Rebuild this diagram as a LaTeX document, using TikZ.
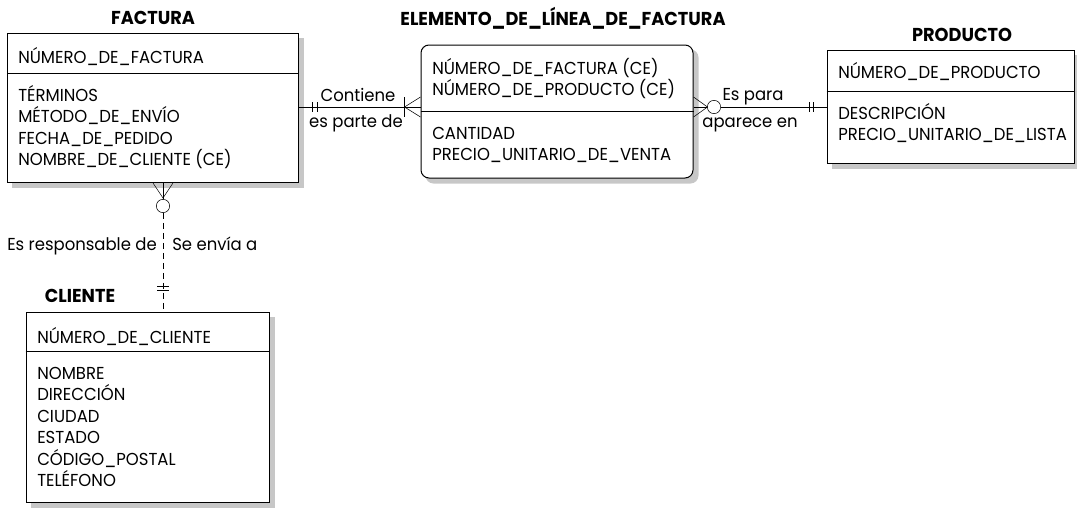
\documentclass[tikz,border=0pt]{standalone}
\usepackage{fontspec}
\setmainfont{Poppins}[FakeStretch=0.95]
\usetikzlibrary{calc,backgrounds}

\newcommand\attrsize{\fontsize{13pt}{16pt}\selectfont}
\newcommand\namesize{\fontsize{14pt}{16pt}\selectfont}

\tikzset{every picture/.style={line width=0.75pt}}
\tikzset{
  entity/.style={draw, fill=white, inner sep=0pt},
  entshadow/.style={fill=black!22},
  attr/.style={anchor=base west, inner sep=0pt, font=\attrsize},
  entname/.style={anchor=base, inner sep=0pt, font=\namesize\bfseries},
  role/.style={anchor=base, inner sep=0pt, font=\attrsize},
  optc/.style={draw, circle, fill=white, inner sep=0pt, minimum size=10pt}
}

\begin{document}
\begin{tikzpicture}[x=0.75pt,y=0.75pt,yscale=-1,xscale=1]
\useasboundingbox (0,0) rectangle (1077,507);

%Shape: Entity [id:factura]
\node[entity, minimum width=218.25pt, minimum height=111.75pt] (fac) at (153,108) {};
\draw ([yshift=30pt]fac.north west) -- ([yshift=30pt]fac.north east);
%Shape: Entity [id:elemento]
\node[entity, rounded corners=6pt, minimum width=204pt, minimum height=99.75pt] (elem) at (557,111.5) {};
\draw ([yshift=49.9pt]elem.north west) -- ([yshift=49.9pt]elem.north east);
%Shape: Entity [id:producto]
\node[entity, minimum width=185.25pt, minimum height=84.75pt] (prod) at (950.5,106.5) {};
\draw ([yshift=31.5pt]prod.north west) -- ([yshift=31.5pt]prod.north east);
%Shape: Entity [id:cliente]
\node[entity, minimum width=182.25pt, minimum height=142.5pt] (cli) at (147.5,407) {};
\draw ([yshift=30pt]cli.north west) -- ([yshift=30pt]cli.north east);

%Shadows
\begin{pgfonlayer}{background}
\fill[entshadow] ($(fac.north west)+(5,5)$) rectangle ($(fac.south east)+(5,5)$);
\fill[entshadow, rounded corners=6pt] ($(elem.north west)+(5,5)$) rectangle ($(elem.south east)+(5,5)$);
\fill[entshadow] ($(prod.north west)+(5,5)$) rectangle ($(prod.south east)+(5,5)$);
\fill[entshadow] ($(cli.north west)+(5,5)$) rectangle ($(cli.south east)+(5,5)$);
\end{pgfonlayer}

% Text Node
\node[entname] (facname) at (153,24) {FACTURA};
\node[entname] (elemname) at (563,25) {ELEMENTO\_DE\_LÍNEA\_DE\_FACTURA};
\node[entname] (prodname) at (962,41) {PRODUCTO};
\node[entname] (cliname) at (80,302) {CLIENTE};

% Text Node
\node[attr] (fac1) at (18,63) {NÚMERO\_DE\_FACTURA};
\node[attr] (fac2) at (18,101) {TÉRMINOS};
\node[attr] (fac3) at (18,122.5) {MÉTODO\_DE\_ENVÍO};
\node[attr] (fac4) at (18,144) {FECHA\_DE\_PEDIDO};
\node[attr] (fac5) at (18,165.5) {NOMBRE\_DE\_CLIENTE (CE)};
% Text Node
\node[attr] (elem1) at (432,74) {NÚMERO\_DE\_FACTURA (CE)};
\node[attr] (elem2) at (432,95.5) {NÚMERO\_DE\_PRODUCTO (CE)};
\node[attr] (elem3) at (432,139) {CANTIDAD};
\node[attr] (elem4) at (432,160.5) {PRECIO\_UNITARIO\_DE\_VENTA};
% Text Node
\node[attr] (prod1) at (838,78) {NÚMERO\_DE\_PRODUCTO};
\node[attr] (prod2) at (838,119) {DESCRIPCIÓN};
\node[attr] (prod3) at (838,140.5) {PRECIO\_UNITARIO\_DE\_LISTA};
% Text Node
\node[attr] (cli1) at (37,343) {NÚMERO\_DE\_CLIENTE};
\node[attr] (cli2) at (37,379) {NOMBRE};
\node[attr] (cli3) at (37,400.5) {DIRECCIÓN};
\node[attr] (cli4) at (37,422) {CIUDAD};
\node[attr] (cli5) at (37,443.5) {ESTADO};
\node[attr] (cli6) at (37,465) {CÓDIGO\_POSTAL};
\node[attr] (cli7) at (37,486.5) {TELÉFONO};

%Relationship: FACTURA - ELEMENTO
\coordinate (lnk) at (0,107);
\draw (fac.east |- lnk) -- (elem.west |- lnk);
\draw ($(fac.east |- lnk)+(13,-5)$) -- ++(0,10);
\draw ($(fac.east |- lnk)+(18,-5)$) -- ++(0,10);
\draw ($(elem.west |- lnk)+(0,-10)$) -- ($(elem.west |- lnk)+(-16,0)$) -- ($(elem.west |- lnk)+(0,10)$);
\draw ($(elem.west |- lnk)+(-16,-10)$) -- ++(0,20);
\node[role] (contiene) at (358,101) {Contiene};
\node[role] (esparte) at (356,127) {es parte de};

%Relationship: ELEMENTO - PRODUCTO
\node[optc] (opt1) at (714,107) {};
\draw (elem.east |- lnk) -- (opt1);
\draw (opt1) -- (prod.west |- lnk);
\draw ($(elem.east |- lnk)+(0,-10)$) -- ($(elem.east |- lnk)+(14,0)$) -- ($(elem.east |- lnk)+(0,10)$);
\draw ($(prod.west |- lnk)+(-17,-5)$) -- ++(0,10);
\draw ($(prod.west |- lnk)+(-13,-5)$) -- ++(0,10);
\node[role] (espara) at (753,100) {Es para};
\node[role] (aparece) at (750,127) {aparece en};

%Relationship: FACTURA - CLIENTE
\coordinate (vx) at (163,0);
\node[optc] (opt2) at (163,206) {};
\draw (fac.south -| vx) -- (opt2);
\draw[dash pattern=on 4.5pt off 3pt] (opt2) -- (cli.north -| vx);
\draw ($(fac.south -| vx)+(-10,0)$) -- ($(fac.south -| vx)+(0,15)$) -- ($(fac.south -| vx)+(10,0)$);
\draw ($(cli.north -| vx)+(-6,-25)$) -- ++(12,0);
\draw ($(cli.north -| vx)+(-6,-21)$) -- ++(12,0);
\node[role, anchor=base east] (resp) at (157,250) {Es responsable de};
\node[role, anchor=base west] (envia) at (172,250) {Se envía a};

\end{tikzpicture}
\end{document}
